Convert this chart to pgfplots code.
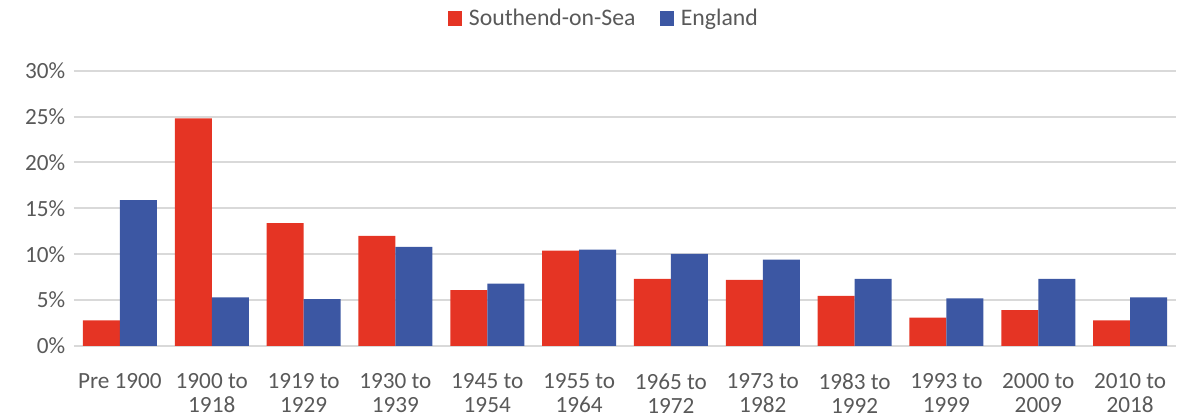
\documentclass[border=0pt]{standalone}
\usepackage{pgfplots}
\pgfplotsset{compat=1.18}
\usepackage{fontspec}
\setmainfont{Carlito}
\definecolor{sred}{HTML}{E53424}
\definecolor{eblue}{HTML}{3C57A3}
\definecolor{txt}{HTML}{595959}
\definecolor{grd}{HTML}{D9D9D9}

\begin{document}
\begin{tikzpicture}[x=0.75pt,y=0.75pt]
  \begin{axis}[
      width=826.5pt, height=206.5pt, scale only axis,
      ybar=0pt, bar width=27.75pt,
      ymin=0, ymax=30, xmin=-0.5, xmax=11.5,
      xtick=data,
      xticklabels={Pre 1900, 1900 to\\1918, 1919 to\\1929, 1930 to\\1939, 1945 to\\1954, 1955 to\\1964, 1965 to\\1972, 1973 to\\1982, 1983 to\\1992, 1993 to\\1999, 2000 to\\2009, 2010 to\\2018},
      xticklabel style={align=center, text=txt, font=\fontsize{17.4}{18}\selectfont, yshift=-17pt, anchor=north},
      ytick={0,5,...,30},
      yticklabel={\pgfmathprintnumber{\tick}\%},
      yticklabel style={text=txt, font=\fontsize{17.4}{18}\selectfont, xshift=-3pt},
      /pgf/number format/assume math mode=true,
      ymajorgrids, grid style={grd, line width=1.5pt},
      axis line style={draw=none},
      major tick length=0pt,
      legend columns=2,
      legend style={at={(0.481,1)}, anchor=south, yshift=28pt, draw=none,
        font=\fontsize{17.8}{18}\selectfont, text=txt,
        /tikz/every odd column/.append style={column sep=3pt},
        /tikz/every even column/.append style={column sep=16pt}},
      legend image code/.code={\fill[#1] (0pt,-5.5pt) rectangle (11pt,5.5pt);},
      clip=false,
    ]
    \addplot[fill=sred, draw=none] coordinates {
      (0,2.8) (1,24.8) (2,13.4) (3,12.0) (4,6.1) (5,10.4)
      (6,7.3) (7,7.2) (8,5.45) (9,3.1) (10,3.9) (11,2.8)};
    \addlegendentry{Southend-on-Sea}
    \addplot[fill=eblue, draw=none] coordinates {
      (0,15.9) (1,5.3) (2,5.1) (3,10.8) (4,6.8) (5,10.5)
      (6,10.05) (7,9.4) (8,7.3) (9,5.2) (10,7.3) (11,5.3)};
    \addlegendentry{England}
    \path (rel axis cs:0,0) ++(-55.5pt,-54.75pt) (rel axis cs:1,1) ++(1.5pt,53pt);
  \end{axis}
\end{tikzpicture}
\end{document}
